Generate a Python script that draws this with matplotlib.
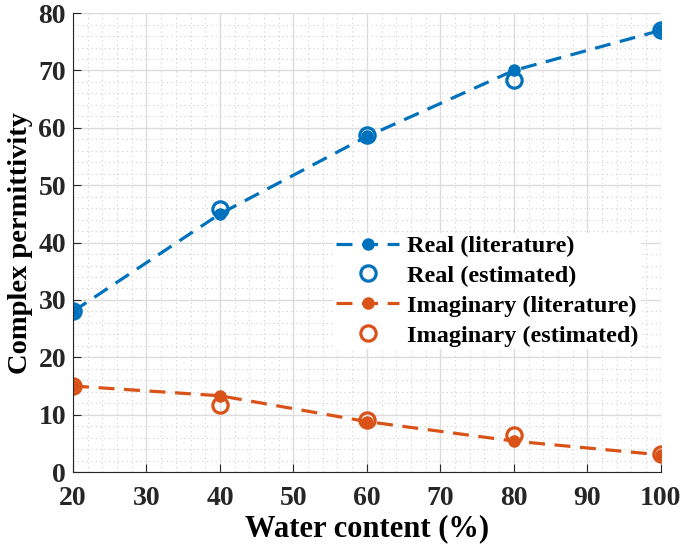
import matplotlib.pyplot as plt
import numpy as np

plt.rcParams['font.family'] = ['Liberation Serif', 'DejaVu Serif']
plt.rcParams['font.weight'] = 'bold'

water = [20, 40, 60, 80, 100]
real_lit = [28, 45, 58.5, 70, 77]
real_est = [28, 45.8, 58.7, 68.3, 77]
imag_lit = [15, 13.3, 8.8, 5.4, 3]
imag_est = [15, 11.7, 9, 6.4, 3.2]

blue = "#0072BD"
orange = "#D95319"

fig = plt.figure(figsize=(6.85, 5.47), dpi=100)
ax = fig.add_axes([0.1066, 0.137, 0.858, 0.839])

ax.plot(water, real_lit, "--", color=blue, lw=2.3, dashes=(5, 3),
        marker="o", ms=8, label="Real (literature)")
ax.plot(water, real_est, "o", color=blue, mfc="none", mew=2.3, ms=11,
        label="Real (estimated)")
ax.plot(water, imag_lit, "--", color=orange, lw=2.3, dashes=(5, 3),
        marker="o", ms=8, label="Imaginary (literature)")
ax.plot(water, imag_est, "o", color=orange, mfc="none", mew=2.3, ms=11,
        label="Imaginary (estimated)")

ax.set_xlim(20, 100)
ax.set_ylim(0, 80)
ax.set_xticks(np.arange(20, 101, 10))
ax.set_yticks(np.arange(0, 81, 10))
ax.set_xticks(np.arange(20, 101, 2), minor=True)
ax.set_yticks(np.arange(0, 81, 2), minor=True)
ax.grid(which="major", color="#dcdcdc", lw=1)
ax.grid(which="minor", color="#cfcfcf", lw=0.8, ls=(0, (1, 3)))
ax.set_axisbelow(True)

for s in ["top", "right"]:
    ax.spines[s].set_visible(False)
for s in ["left", "bottom"]:
    ax.spines[s].set_color("#262626")
ax.tick_params(which="major", direction="in", length=6, labelsize=20,
               colors="#262626", labelcolor="#262626")
ax.tick_params(axis="x", pad=10)
ax.tick_params(axis="y", pad=5)
ax.tick_params(which="minor", length=0)

ax.set_xlabel("Water content (%)", fontsize=22, fontweight="bold", labelpad=2)
ax.set_ylabel("Complex permittivity", fontsize=20.5, fontweight="bold", labelpad=4)

leg = ax.legend(loc="upper left", bbox_to_anchor=(0.423, 0.548), fontsize=17.5,
                frameon=True, handlelength=2.6, handletextpad=0.3,
                borderpad=0.1, labelspacing=0.32)
leg.get_frame().set_edgecolor("none")
leg.get_frame().set_facecolor("white")
leg.get_frame().set_alpha(1)

fig.savefig("out.png", dpi=100)
